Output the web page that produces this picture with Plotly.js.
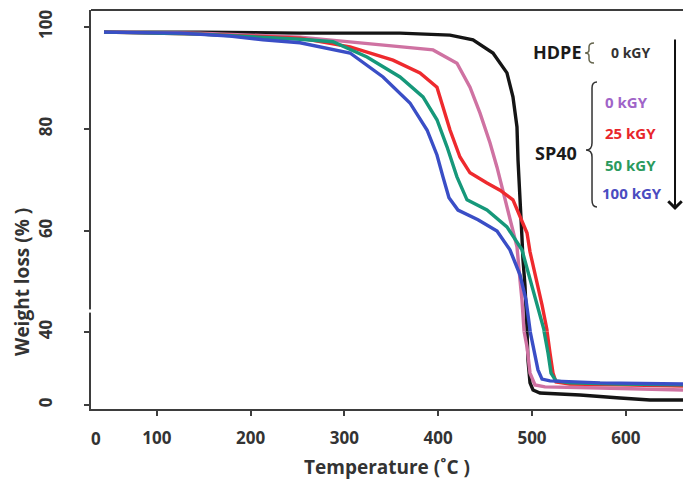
<!DOCTYPE html>
<html>
<head>
<meta charset="utf-8">
<script src="https://cdn.plot.ly/plotly-3.0.1.min.js"></script>
<style>html,body{margin:0;padding:0;background:#fff;}#chart{width:683px;height:485px;}</style>
</head>
<body>
<div id="chart"></div>
<script>
// Temperature (°C) and weight (%)
const hdpeTemp = [43.7,146.1,252.7,359.3,412.6,437.1,458.4,473.3,479.7,484.0,485.1,487.2,489.3,490.4,492.5,494.7,495.7,497.9,501.1,508.5,551.2,593.8,625.8,661.0];
const hdpeWt   = [99.0,99.0,98.8,98.8,98.4,97.5,94.9,91.0,86.3,80.4,73.9,67.5,58.8,54.3,49.4,40.6,24.7,12.1,8.2,6.6,5.5,3.8,2.7,2.7];

const sp0Temp = [43.7,146.1,252.7,341.2,394.5,420.0,433.9,444.6,455.2,462.7,469.1,476.5,484.0,487.2,489.3,494.7,497.9,503.2,513.9,572.5,661.0];
const sp0Wt   = [99.0,98.8,98.0,96.5,95.5,92.9,88.2,83.1,77.3,72.5,68.0,62.2,56.9,50.4,46.5,31.8,17.5,11.0,9.9,9.3,8.2];

const sp25Temp = [43.7,146.1,252.7,306.0,351.8,380.6,398.7,405.1,412.6,423.2,433.9,452.0,465.9,479.7,487.2,494.7,497.9,505.3,510.7,516.0,519.2,522.4,525.6,540.5,593.8,661.0];
const sp25Wt   = [99.0,98.6,97.8,96.1,93.5,91.0,88.2,84.3,79.8,74.5,71.4,69.4,68.0,66.1,62.7,59.6,55.9,50.0,45.5,40.6,28.5,17.5,12.6,11.5,11.0,10.4];

const sp50Temp = [43.7,146.1,210.0,252.7,287.8,324.1,359.3,383.8,398.7,409.4,420.0,430.7,452.0,473.3,489.3,497.9,505.3,512.8,517.1,520.3,525.6,540.5,593.8,661.0];
const sp50Wt   = [99.0,98.6,98.0,97.6,97.1,94.1,90.2,86.3,81.8,76.5,70.6,66.1,64.1,60.8,56.3,50.4,45.9,40.6,28.5,17.5,13.2,12.1,11.5,11.0];

const sp100Temp = [43.7,124.7,178.0,213.2,252.7,306.0,341.2,369.9,388.1,398.7,405.1,411.5,421.1,442.4,462.7,476.5,487.2,493.6,497.9,501.1,506.4,510.7,519.2,572.5,661.0];
const sp100Wt   = [99.0,98.8,98.2,97.5,96.9,94.9,90.2,85.1,79.8,74.9,70.6,66.5,64.1,62.2,60.0,56.3,51.4,46.5,40.6,31.8,19.2,14.2,13.2,12.1,11.5];

const seriesNames = ["HDPE 0 kGY","SP40 0 kGY","SP40 25 kGY","SP40 50 kGY","SP40 100 kGY"];
const xTicks = [100,200,300,400,500,600];
const yTicksUpper = [60,80,100];
const yTicksLower = [0,40];

const series = [
  {name: seriesNames[0], x: hdpeTemp, y: hdpeWt, color: "#151515"},
  {name: seriesNames[1], x: sp0Temp, y: sp0Wt, color: "#cf72a2"},
  {name: seriesNames[2], x: sp25Temp, y: sp25Wt, color: "#ee2a2e"},
  {name: seriesNames[3], x: sp50Temp, y: sp50Wt, color: "#16987a"},
  {name: seriesNames[4], x: sp100Temp, y: sp100Wt, color: "#3a4ec6"}
];

// broken (piecewise) weight axis: upper part and compressed lower part
const traces = [];
series.forEach(s => {
  ["y", "y2"].forEach(ax => {
    traces.push({
      type: "scatter", mode: "lines", name: s.name, x: s.x, y: s.y,
      xaxis: "x", yaxis: ax, showlegend: false,
      line: {color: s.color, width: 3.4, shape: "linear"}
    });
  });
});

const FONT = "Open Sans, Noto Sans, DejaVu Sans, sans-serif";
const tickFont = {family: FONT, size: 17, color: "#333", weight: "bold"};
const axisCol = "#3d3d3d";
const split = 0.1945;
const gapY = 0.2456;

const layout = {
  width: 683, height: 485,
  margin: {l: 91, r: 0, t: 10, b: 76},
  paper_bgcolor: "#fff", plot_bgcolor: "#fff",
  showlegend: false,
  xaxis: {
    range: [29.85, 661.0], anchor: "y2", domain: [0, 1],
    tickvals: xTicks, ticks: "outside", ticklen: 5, tickwidth: 2, tickcolor: axisCol,
    showline: true, linecolor: axisCol, linewidth: 2, showgrid: false, zeroline: false,
    tickfont: tickFont, ticklabelstandoff: 8
  },
  yaxis: {
    domain: [split, 1], range: [40.3, 103.33], anchor: "x",
    tickvals: yTicksUpper, ticks: "outside", ticklen: 5, tickwidth: 2, tickcolor: axisCol,
    showline: true, linecolor: axisCol, linewidth: 2, showgrid: false, zeroline: false,
    tickfont: tickFont, tickangle: -90, ticklabelstandoff: 25
  },
  yaxis2: {
    domain: [0, split], range: [-2.19, 40.3], anchor: "x",
    tickvals: yTicksLower, ticks: "outside", ticklen: 5, tickwidth: 2, tickcolor: axisCol,
    showline: true, linecolor: axisCol, linewidth: 2, showgrid: false, zeroline: false,
    tickfont: tickFont, tickangle: -90, ticklabelstandoff: 25
  },
  shapes: [
    {type: "line", xref: "paper", yref: "paper", x0: 0, x1: 1, y0: 1, y1: 1, line: {color: axisCol, width: 2}},
    {type: "rect", xref: "paper", yref: "paper", x0: -0.007, x1: 0.006, y0: gapY - 0.004, y1: gapY + 0.004,
     fillcolor: "#fff", line: {width: 0}, layer: "above"},
    {type: "path", xref: "paper", yref: "paper",
     path: "M 0.8497,0.9173 Q 0.8412,0.9173 0.8412,0.9073 L 0.8412,0.8997 Q 0.8412,0.8922 0.8345,0.8922 Q 0.8412,0.8922 0.8412,0.8847 L 0.8412,0.8772 Q 0.8412,0.8672 0.8497,0.8672",
     line: {color: "#66664f", width: 1.5}},
    {type: "path", xref: "paper", yref: "paper",
     path: "M 0.8547,0.8195 Q 0.8463,0.8195 0.8463,0.8045 L 0.8463,0.6667 Q 0.8463,0.6491 0.8361,0.6491 Q 0.8463,0.6491 0.8463,0.6316 L 0.8463,0.5238 Q 0.8463,0.5063 0.8547,0.5063",
     line: {color: "#333", width: 1.5}}
  ],
  annotations: [
    {xref: "paper", yref: "paper", x: 0.5, y: -0.1454, text: "Temperature (˚C )", showarrow: false,
     xanchor: "center", yanchor: "middle", font: {family: FONT, size: 19, color: "#333", weight: "bold"}},
    {xref: "paper", yref: "paper", x: -0.1166, y: 0.3183, text: "Weight loss (% )", showarrow: false,
     textangle: -90, xanchor: "center", yanchor: "middle", font: {family: FONT, size: 19, color: "#333", weight: "bold"}},
    {xref: "paper", yref: "paper", x: 0.0084, y: -0.0727, text: "0", showarrow: false,
     xanchor: "center", yanchor: "middle", font: tickFont},
    {xref: "paper", yref: "paper", x: 0.7872, y: 0.8947, text: "HDPE", showarrow: false,
     xanchor: "center", yanchor: "middle", font: {family: FONT, size: 18, color: "#1a1a1a", weight: "bold"}},
    {xref: "paper", yref: "paper", x: 0.9105, y: 0.8947, text: "0 kGY", showarrow: false,
     xanchor: "center", yanchor: "middle", font: {family: FONT, size: 14, color: "#333", weight: "bold"}},
    {xref: "paper", yref: "paper", x: 0.7855, y: 0.6416, text: "SP40", showarrow: false,
     xanchor: "center", yanchor: "middle", font: {family: FONT, size: 18, color: "#1a1a1a", weight: "bold"}},
    {xref: "paper", yref: "paper", x: 0.9054, y: 0.7694, text: "0 kGY", showarrow: false,
     xanchor: "center", yanchor: "middle", font: {family: FONT, size: 15, color: "#a064c8", weight: "bold"}},
    {xref: "paper", yref: "paper", x: 0.9105, y: 0.6917, text: "25 kGY", showarrow: false,
     xanchor: "center", yanchor: "middle", font: {family: FONT, size: 15, color: "#e8262b", weight: "bold"}},
    {xref: "paper", yref: "paper", x: 0.9105, y: 0.6115, text: "50 kGY", showarrow: false,
     xanchor: "center", yanchor: "middle", font: {family: FONT, size: 15, color: "#2a9a5e", weight: "bold"}},
    {xref: "paper", yref: "paper", x: 0.9139, y: 0.5414, text: "100 kGY", showarrow: false,
     xanchor: "center", yanchor: "middle", font: {family: FONT, size: 15, color: "#4a4cc0", weight: "bold"}},
    {xref: "paper", yref: "paper", x: 0.9865, y: 0.4987, text: "", showarrow: true,
     ax: 0, ay: -172, arrowhead: 4, arrowsize: 1.3, arrowwidth: 2, arrowcolor: "#111"}
  ]
};

Plotly.newPlot("chart", traces, layout, {displayModeBar: false, staticPlot: true});
</script>
</body>
</html>
